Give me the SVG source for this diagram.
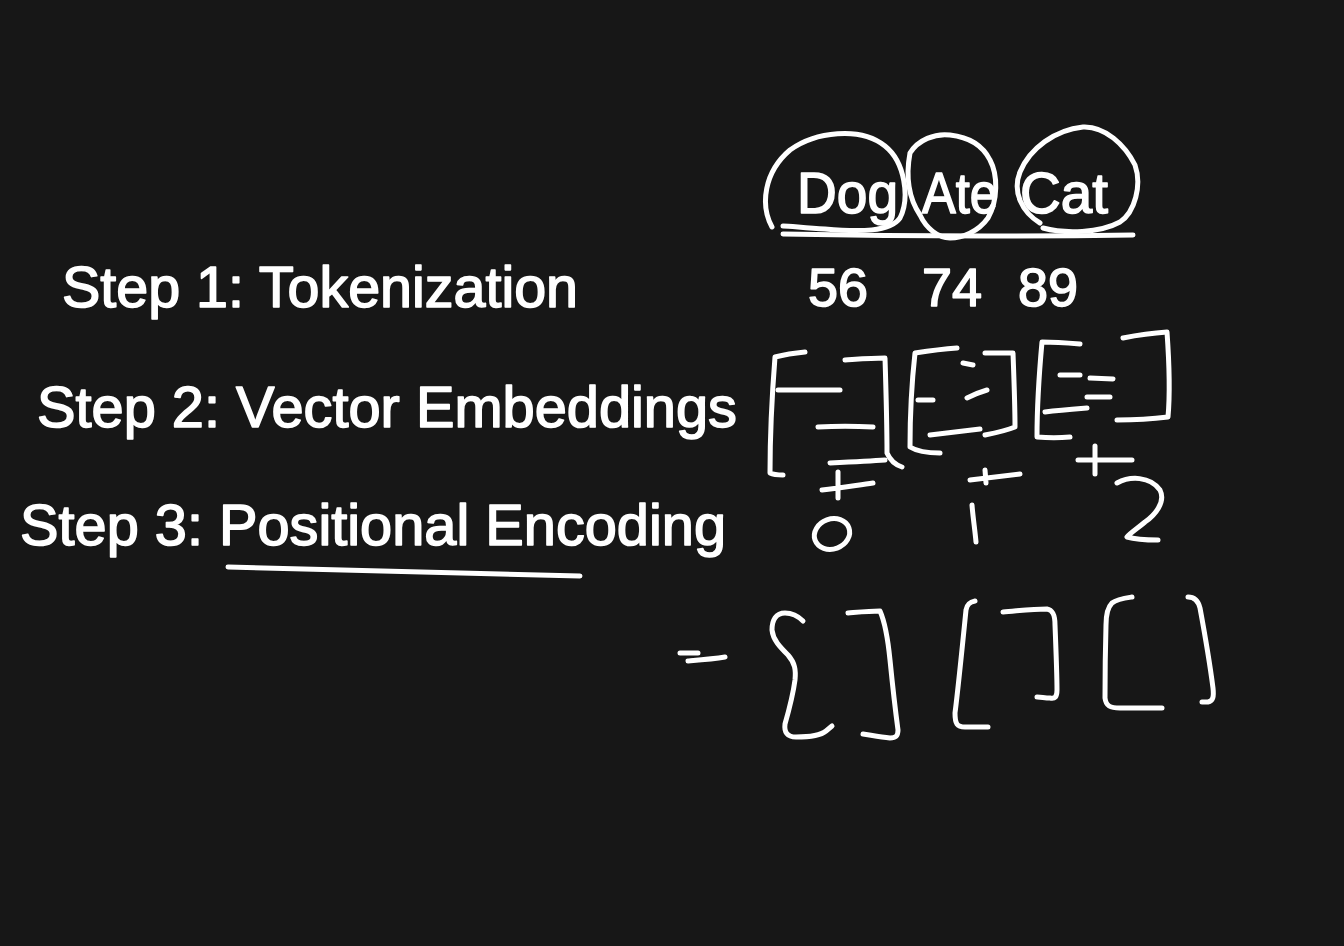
<svg xmlns="http://www.w3.org/2000/svg" width="1344" height="946" viewBox="0 0 1344 946">
<style>
.bg{fill:#171717}
.t{font-family:"Liberation Sans",Arial,sans-serif;fill:#ffffff;stroke:#ffffff;stroke-width:1.6;stroke-linejoin:round;font-size:58px}
.n{font-family:"Liberation Sans",Arial,sans-serif;fill:#ffffff;stroke:#ffffff;stroke-width:1.6;stroke-linejoin:round;font-size:53px}
.ink{fill:none;stroke:#ffffff;stroke-width:5;stroke-linecap:round;stroke-linejoin:round}
</style>
<rect class="bg" x="0" y="0" width="1344" height="946"/>
<g id="step1"><text class="t" x="62" y="307" textLength="516" lengthAdjust="spacingAndGlyphs">Step 1: Tokenization</text></g>
<g id="step2"><text class="t" x="37" y="427" textLength="700" lengthAdjust="spacingAndGlyphs">Step 2: Vector Embeddings</text></g>
<g id="step3"><text class="t" x="20" y="545" textLength="706" lengthAdjust="spacingAndGlyphs">Step 3: Positional Encoding</text></g>
<g id="tokens">
<text class="t" x="797" y="213" textLength="101" lengthAdjust="spacingAndGlyphs">Dog</text>
<text class="t" x="922" y="213" textLength="76" lengthAdjust="spacingAndGlyphs">Ate</text>
<text class="t" x="1020" y="213" textLength="88" lengthAdjust="spacingAndGlyphs">Cat</text>
</g>
<g id="ids">
<text class="n" x="808" y="306" textLength="60" lengthAdjust="spacingAndGlyphs">56</text>
<text class="n" x="922" y="306" textLength="60" lengthAdjust="spacingAndGlyphs">74</text>
<text class="n" x="1018" y="306" textLength="60" lengthAdjust="spacingAndGlyphs">89</text>
</g>
<g id="connectors" class="ink">
<!-- circles -->
<path d="M772,227 C760,205 764,172 790,150 C815,132 860,126 885,146 C905,162 910,198 900,218 C890,232 860,232 825,229 C805,228 790,226 783,226"/>
<path d="M910,153 C918,140 935,133 950,135 C968,137 982,144 990,160 C998,175 998,200 988,218 C978,232 962,238 950,238 C938,238 926,228 920,215 C910,200 905,180 910,153"/>
<path d="M1040,223 C1022,212 1012,192 1020,172 C1030,148 1055,130 1083,127 C1105,126 1125,145 1135,165 C1142,185 1135,212 1120,222 C1100,233 1065,234 1043,228"/>
<path d="M783,234 C880,236 1000,237 1133,235"/>
<!-- step 3 underline -->
<path d="M228,567 C330,569 450,572 580,576"/>
<!-- embedding 1 -->
<path d="M805,352 C795,353 783,355 775,357 C772,395 770,440 770,473 C774,475 779,475 783,475"/>
<path d="M845,360 C860,359 872,358 885,358 C886,390 887,425 887,453 C890,460 896,465 902,467"/>
<path d="M830,463 C850,462 870,461 885,460"/>
<path d="M778,390 L840,390"/>
<path d="M818,427 C835,426 855,426 873,427"/>
<path d="M822,490 C840,488 858,485 873,483 M838,472 L838,498"/>
<ellipse cx="832" cy="534" rx="18" ry="15" transform="rotate(-20 832 534)" class="ink"/>
<!-- embedding 2 -->
<path d="M957,348 C943,349 928,351 915,353 C912,380 910,420 910,447 C918,452 930,453 940,453"/>
<path d="M985,353 C995,353 1005,353 1013,353 C1014,380 1015,405 1015,427 C1005,431 995,433 985,435"/>
<path d="M918,400 L933,400 M963,363 L973,365 M967,398 C973,395 980,392 987,390 M930,435 C947,433 963,431 980,429"/>
<path d="M970,480 C987,478 1004,476 1020,474 M985,470 L986,483"/>
<path d="M972,505 C973,518 975,530 976,542"/>
<!-- embedding 3 -->
<path d="M1080,344 C1068,343 1055,342 1042,342 C1039,375 1037,410 1037,437 C1048,438 1060,438 1070,437"/>
<path d="M1123,338 C1138,335 1152,333 1167,332 C1169,360 1170,395 1168,417 C1152,419 1133,420 1117,420"/>
<path d="M1060,375 L1080,375 M1090,378 L1113,379 M1087,397 L1110,397 M1045,412 C1060,410 1074,409 1087,408"/>
<path d="M1078,460 L1132,460 M1095,446 L1095,474"/>
<path d="M1117,483 C1130,476 1150,476 1160,490 C1166,502 1155,515 1145,522 C1138,528 1130,533 1127,537 C1137,540 1148,540 1158,540"/>
<!-- result row -->
<path d="M680,653 L698,653 M688,661 C700,660 713,659 725,657"/>
<path d="M803,621 C798,616 792,613 785,613 C776,613 772,620 772,630 C773,640 780,647 788,655 C795,663 796,670 795,680 C793,695 789,710 785,724 C784,732 787,737 796,737 C810,737 820,736 826,731 L832,726"/>
<path d="M848,613 C860,612 870,611 880,611 C884,620 888,640 890,660 C893,690 896,715 898,730 C898,736 896,738 890,738 C880,737 870,735 863,734"/>
<path d="M975,601 C970,602 967,604 966,610 C962,650 958,690 955,713 C955,724 957,727 965,727 C975,727 982,727 988,727"/>
<path d="M1003,612 C1017,611 1032,609 1047,609 C1053,610 1055,615 1055,625 C1056,650 1057,675 1057,690 C1057,697 1055,699 1050,698 C1045,698 1041,697 1037,697"/>
<path d="M1132,597 C1125,598 1117,599 1112,603 C1107,608 1106,615 1106,625 C1105,660 1105,685 1105,698 C1106,706 1110,708 1120,708 C1135,708 1150,708 1162,708"/>
<path d="M1188,597 C1194,597 1198,600 1200,608 C1205,635 1210,665 1213,688 C1214,697 1213,701 1208,702 C1206,702 1204,702 1202,702"/>
</g>
</svg>
